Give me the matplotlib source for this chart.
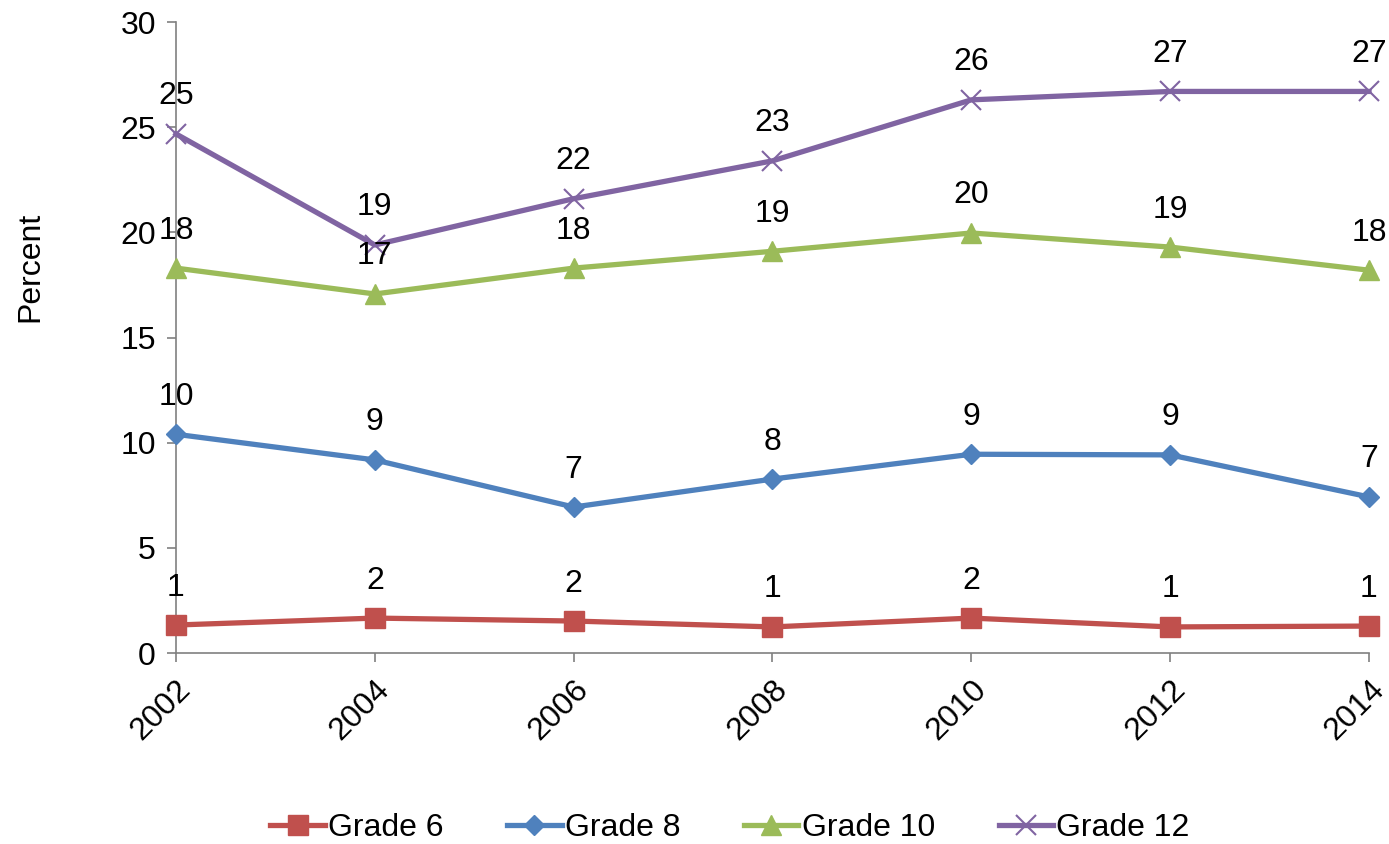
import matplotlib.pyplot as plt

plt.rcParams["font.family"] = ["Liberation Sans", "DejaVu Sans"]

years = [2002, 2004, 2006, 2008, 2010, 2012, 2014]
grade6 = [1.33, 1.66, 1.52, 1.24, 1.66, 1.24, 1.28]
grade8 = [10.4, 9.18, 6.94, 8.27, 9.45, 9.42, 7.42]
grade10 = [18.3, 17.07, 18.3, 19.1, 19.97, 19.3, 18.2]
grade12 = [24.68, 19.4, 21.6, 23.4, 26.3, 26.7, 26.7]

series = [
    ("Grade 6", grade6, "#C0504D", "s", 14, 1),
    ("Grade 8", grade8, "#4F81BD", "D", 10, 1),
    ("Grade 10", grade10, "#9BBB59", "^", 14, 1),
    ("Grade 12", grade12, "#8064A2", "x", 14, 1.5),
]

FS = 23

fig = plt.figure(figsize=(13.89, 8.44), dpi=100)
ax = fig.add_axes([0.1267, 0.2263, 0.8589, 0.7476])

for name, vals, color, marker, ms, mew in series:
    ax.plot(years, vals, color=color, lw=3.8, marker=marker, markersize=ms,
            markeredgewidth=mew, markeredgecolor=color, label=name,
            clip_on=False, zorder=3)
    for x, v in zip(years, vals):
        ax.annotate(f"{v:.0f}", (x, v), xytext=(0, 27), textcoords="offset points",
                    ha="center", va="center", fontsize=FS, zorder=4)

ax.set_xlim(2002, 2014)
ax.set_ylim(0, 30)
ax.set_yticks(range(0, 31, 5))
ax.set_xticks(years)
ax.set_xticklabels([str(y) for y in years], rotation=45, ha="right", va="top",
                   rotation_mode="anchor")
ax.tick_params(axis="both", labelsize=FS, direction="out", length=6.5,
               color="#808080", width=1.2)
ax.tick_params(axis="y", pad=8)
ax.tick_params(axis="x", pad=9)
for s in ("top", "right"):
    ax.spines[s].set_visible(False)
for s in ("left", "bottom"):
    ax.spines[s].set_color("#808080")
    ax.spines[s].set_linewidth(1.2)

fig.text(30 / 1389, 1 - 267 / 844, "Percent", rotation=90, fontsize=FS,
         ha="center", va="center")

fig.legend(loc="center", bbox_to_anchor=(0.5256, 1 - 828 / 844), ncol=4,
           frameon=False, fontsize=FS, handlelength=1.7, handletextpad=0.1,
           columnspacing=2.0)

fig.savefig("out.png", dpi=100)
